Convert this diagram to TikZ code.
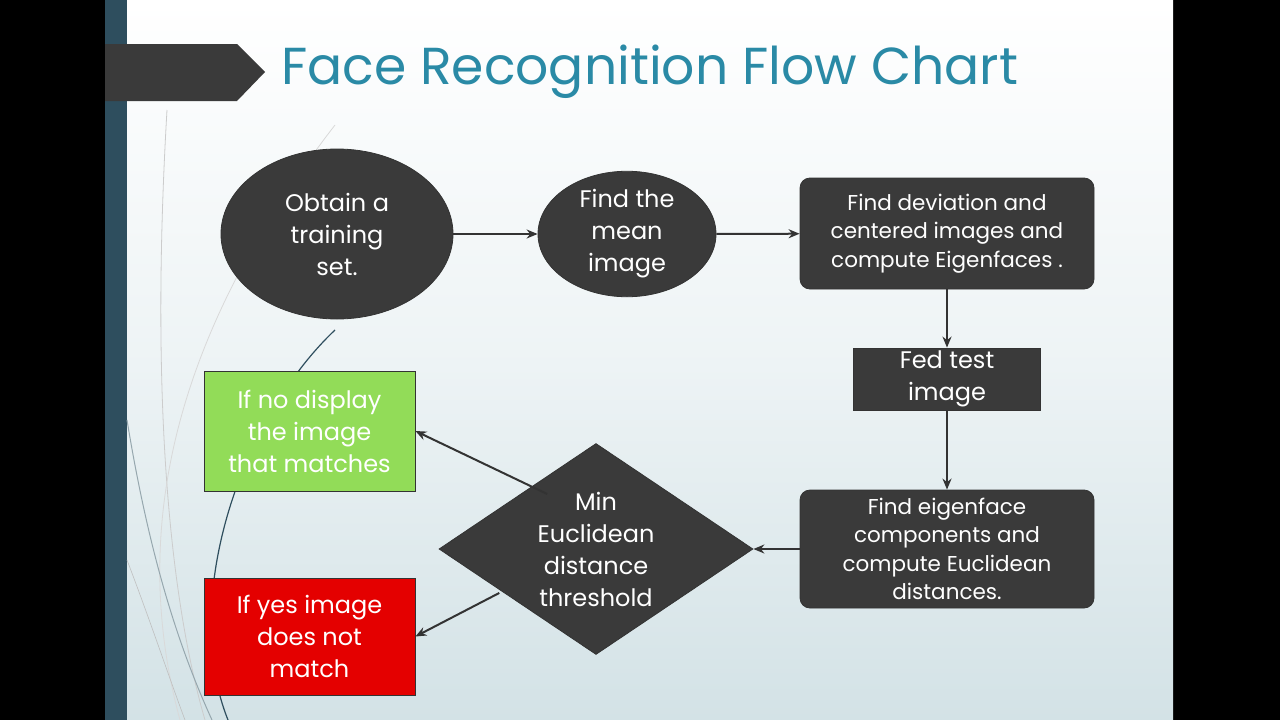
\documentclass[tikz,border=0pt]{standalone}
\usepackage{fontspec}
\setmainfont{Poppins}
\usetikzlibrary{shapes.geometric,arrows.meta}
\definecolor{box}{HTML}{3A3A3A}
\definecolor{ttl}{HTML}{2A8AA6}
\definecolor{strip}{HTML}{2E4E5E}
\definecolor{bgb}{HTML}{D3E2E6}
\begin{document}
\begin{tikzpicture}[x=1pt,y=-1pt,
  sh/.style={fill=box,draw=black!80,line width=0.8pt,text=white,align=center,font=\fontsize{24}{32}\selectfont},
  sm/.style={sh,font=\fontsize{21.5}{28.5}\selectfont},
  ar/.style={-{Stealth[length=11pt,width=9pt]},line width=2pt,draw=black!80}]
\useasboundingbox (0,0) rectangle (1280,720);
\fill[black] (0,0) rectangle (1280,720);
\shade[top color=white,bottom color=bgb,middle color=white!60!bgb] (105,0) rectangle (1173,720);
\fill[strip] (105,0) rectangle (127,720);
% decorative curves
\draw[black!20,line width=0.8pt] (167,110) .. controls (150,400) and (170,600) .. (205,720);
\draw[black!15,line width=0.8pt] (335,125) .. controls (200,300) and (120,500) .. (180,720);
\draw[strip!50,line width=1pt] (127,420) .. controls (150,560) and (180,650) .. (212,720);
\draw[strip,line width=1.2pt] (335,330) .. controls (240,420) and (180,600) .. (228,720);
\draw[black!25,line width=0.6pt] (127,560) .. controls (150,620) and (170,680) .. (185,720);
% title banner
\fill[box] (105,44) -- (237,44) -- (265,72) -- (237,101) -- (105,101) -- cycle;
\node[anchor=west,text=ttl,font=\fontsize{52}{60}\selectfont,inner sep=0] (title) at (281,72) {Face Recognition Flow Chart};
% nodes
\node[sh,ellipse,minimum width=232,minimum height=170,inner sep=0] (e1) at (337,234) {Obtain a\\training\\set.};
\node[sh,ellipse,minimum width=178,minimum height=124,inner sep=0] (e2) at (627,234) {Find the\\mean\\image};
\node[sm,rectangle,rounded corners=10pt,minimum width=294,minimum height=111] (r1) at (947,233.5) {Find deviation and\\centered images and\\compute Eigenfaces .};
\node[sh,rectangle,minimum width=187,minimum height=62,inner sep=0] (fed) at (947,379) {Fed test\\image};
\node[sm,rectangle,rounded corners=10pt,minimum width=294,minimum height=118,inner sep=0] (r2) at (947,549) {Find eigenface\\components and\\compute Euclidean\\distances.};
\node[sh,diamond,minimum width=314,minimum height=211,inner sep=0,aspect=1.49] (d) at (596,549) {};
\node[sh,fill=none,draw=none] (dt) at (596,549) {Min\\Euclidean\\distance\\threshold};
\node[sh,fill={rgb,255:red,146;green,220;blue,88},rectangle,minimum width=211,minimum height=120,inner sep=0] (g) at (309.5,431) {If no display\\the image\\that matches};
\node[sh,fill={rgb,255:red,228;green,0;blue,0},rectangle,minimum width=211,minimum height=117,inner sep=0] (rd) at (309.5,636.5) {If yes image\\does not\\match};
% arrows
\draw[ar] (e1) -- (e2);
\draw[ar] (e2) -- (r1);
\draw[ar] (r1) -- (fed);
\draw[ar] (fed) -- (r2);
\draw[ar] (r2) -- (d.east);
\draw[ar] (d.north west) ++(30,-2) -- (g.east);
\draw[ar] (d.south west) ++(-18,-9) -- (rd.east);
\end{tikzpicture}
\end{document}
